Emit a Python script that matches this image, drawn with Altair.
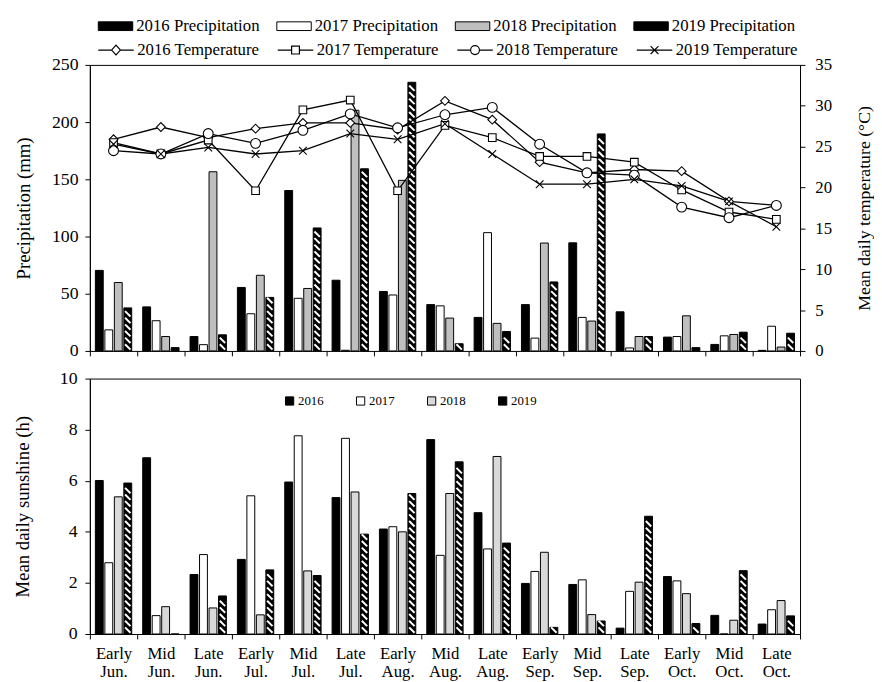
import altair as alt
import pandas as pd
import numpy as np

FONT = "Liberation Serif"

periods = ["Early Jun.", "Mid Jun.", "Late Jun.", "Early Jul.", "Mid Jul.", "Late Jul.",
           "Early Aug.", "Mid Aug.", "Late Aug.", "Early Sep.", "Mid Sep.", "Late Sep.",
           "Early Oct.", "Mid Oct.", "Late Oct."]
years = ["2016", "2017", "2018", "2019"]

precip_2016 = [70.4, 38.5, 12.6, 55.5, 140.2, 61.8, 52.0, 40.5, 29.3, 40.5, 94.5, 34.2, 12.1, 5.7, 0.5]
precip_2017 = [18.4, 26.4, 5.5, 32.5, 46.0, 0.6, 48.9, 39.4, 103.4, 11.2, 29.3, 2.6, 12.6, 13.2, 21.6]
precip_2018 = [59.8, 12.6, 156.6, 66.1, 54.6, 210.3, 149.1, 28.7, 24.1, 94.3, 26.1, 12.6, 30.7, 14.4, 3.4]
precip_2019 = [37.6, 2.9, 14.1, 46.8, 107.5, 159.2, 234.8, 6.3, 17.0, 60.3, 189.7, 12.6, 2.9, 16.4, 15.5]

temp_2016 = [25.9, 27.4, 26.1, 27.2, 27.9, 27.9, 27.1, 30.6, 28.3, 23.1, 21.8, 22.2, 22.0, 18.3, 17.8]
temp_2017 = [25.5, 24.1, 25.8, 19.6, 29.5, 30.7, 19.6, 27.6, 26.1, 23.8, 23.8, 23.1, 19.7, 17.0, 16.1]
temp_2018 = [24.5, 24.1, 26.6, 25.4, 27.0, 29.0, 27.3, 28.9, 29.8, 25.3, 21.8, 21.5, 17.6, 16.3, 17.8]
temp_2019 = [25.3, 24.1, 24.9, 24.1, 24.5, 26.6, 25.9, 27.8, 24.1, 20.4, 20.4, 21.0, 20.2, 18.3, 15.2]

sun_2016 = [6.01, 6.90, 2.33, 2.92, 5.95, 5.34, 4.11, 7.61, 4.75, 1.98, 1.94, 0.23, 2.25, 0.73, 0.39]
sun_2017 = [2.79, 0.72, 3.11, 5.41, 7.76, 7.66, 4.20, 3.08, 3.33, 2.45, 2.12, 1.67, 2.08, 0.0, 0.95]
sun_2018 = [5.37, 1.07, 1.02, 0.75, 2.47, 5.56, 4.00, 5.50, 6.95, 3.20, 0.76, 2.03, 1.58, 0.54, 1.31]
sun_2019 = [5.91, 0.0, 1.49, 2.51, 2.29, 3.91, 5.50, 6.74, 3.56, 0.26, 0.51, 4.61, 0.41, 2.48, 0.71]

precip = [precip_2016, precip_2017, precip_2018, precip_2019]
temps = [temp_2016, temp_2017, temp_2018, temp_2019]
suns = [sun_2016, sun_2017, sun_2018, sun_2019]

plabels = [f"{y} Precipitation" for y in years]
tlabels = [f"{y} Temperature" for y in years]

prows, trows, srows = [], [], []
for i, p in enumerate(periods):
    for k, y in enumerate(years):
        prows.append(dict(period=p, year=y, plabel=plabels[k], precip=precip[k][i]))
        trows.append(dict(period=p, year=y, tlabel=tlabels[k], temp=temps[k][i]))
        srows.append(dict(period=p, year=y, sun=suns[k][i]))
pdf = pd.DataFrame(prows)
tdf = pd.DataFrame(trows)
sdf = pd.DataFrame(srows)


def hatch_rows(values, step):
    rows = []
    for i, p in enumerate(periods):
        v = values[i]
        for hy in np.arange(step * 0.6, v - step * 0.35, step):
            rows.append(dict(period=p, year="2019", hy=float(hy)))
    return pd.DataFrame(rows if rows else [dict(period=periods[0], year="2019", hy=0.0)])


phatch = hatch_rows(precip_2019, 5.8)
shatch = hatch_rows(sun_2019, 0.26)

W = 720
H_TOP = 290
H_BOT = 259

xscale = alt.Scale(domain=periods, paddingInner=0, paddingOuter=0)
xoff = alt.XOffset("year:N", scale=alt.Scale(domain=years, paddingInner=0.17, paddingOuter=0.58))

x_top = alt.X("period:N", sort=periods, scale=xscale,
              axis=alt.Axis(title=None, labels=False, ticks=True, tickBand="extent",
                            tickSize=5, domain=False))
x_bot = alt.X("period:N", sort=periods, scale=xscale,
              axis=alt.Axis(title=None, labelAngle=0, tickBand="extent", tickSize=5,
                            labelExpr="split(datum.label, ' ')", labelLineHeight=18,
                            labelFontSize=17, labelPadding=7, domain=False))

hatch_mark = dict(shape="M-1,-1L1,1", stroke="white", strokeWidth=2, size=30,
                  filled=False, opacity=1, strokeCap="butt")

# ---------------- top panel ----------------
p_scale = alt.Scale(domain=[0, 250], nice=False)
p_axis = alt.Axis(title="Precipitation (mm)", values=list(range(0, 251, 50)),
                  tickSize=5, labelPadding=7, labelFontSize=18, titleFontSize=19,
                  titlePadding=18)

bars = alt.Chart(pdf).mark_bar(stroke="black", strokeWidth=1).encode(
    x=x_top,
    xOffset=xoff,
    y=alt.Y("precip:Q", scale=p_scale, axis=p_axis),
    fill=alt.Fill("plabel:N",
                  scale=alt.Scale(domain=plabels, range=["#000000", "#ffffff", "#bfbfbf", "#000000"]),
                  legend=alt.Legend(orient="none", legendX=16.5, legendY=-49, direction="horizontal",
                                    title=None, symbolType="M-1.94,-0.49H1.94V0.49H-1.94Z",
                                    symbolSize=324,
                                    symbolStrokeColor="black", symbolStrokeWidth=1,
                                    labelFont=FONT, labelFontSize=17, labelOffset=11.5,
                                    columnPadding=15)),
)
phatch_layer = alt.Chart(phatch).mark_point(**hatch_mark).encode(
    x=x_top, xOffset=xoff, y=alt.Y("hy:Q", scale=p_scale, axis=p_axis)
)
bar_layer = alt.layer(bars, phatch_layer)

ty = alt.Y("temp:Q", scale=alt.Scale(domain=[0, 35], nice=False),
           axis=alt.Axis(orient="right", title="Mean daily temperature (°C)", values=list(range(0, 36, 5)),
                         tickSize=5, labelPadding=10, labelFontSize=17, titleFontSize=18,
                         titleAngle=270, titleBaseline="top", titlePadding=24))

lines = alt.Chart(tdf).mark_line(color="black", strokeWidth=1.3).encode(
    x=x_top, y=ty, detail="year:N"
)

marker_shapes = ["diamond", "square", "circle", "M-1,-1L1,1M-1,1L1,-1"]
marker_sizes = [80, 60, 100, 60]
point_layers = []
for y, shp, sz in zip(years, marker_shapes, marker_sizes):
    point_layers.append(
        alt.Chart(tdf).transform_filter(alt.datum.year == y).mark_point(
            shape=shp, size=sz, filled=True, fill="white", stroke="black", strokeWidth=1.1, opacity=1
        ).encode(x=x_top, y=ty)
    )

legend_paths = [
    "M-2,0H-0.5M0.5,0H2M-0.5,0L0,-0.55L0.5,0L0,0.55Z",
    "M-2,0H-0.44M0.44,0H2M-0.44,-0.44H0.44V0.44H-0.44Z",
    "M-2,0H-0.5M0.5,0H2M-0.5,0A0.5,0.5 0 1,0 0.5,0A0.5,0.5 0 1,0 -0.5,0Z",
    "M-2,0H2M-0.44,-0.44L0.44,0.44M-0.44,0.44L0.44,-0.44",
]
legend_layer = alt.Chart(tdf).transform_filter("false").mark_point(
    filled=False, color="black", strokeWidth=1.2, opacity=1
).encode(
    x=x_top, y=ty,
    shape=alt.Shape("tlabel:N", scale=alt.Scale(domain=tlabels, range=legend_paths),
                    legend=alt.Legend(orient="none", legendX=16.5, legendY=-25, direction="horizontal",
                                      title=None, symbolSize=324,
                                      symbolStrokeColor="black", symbolStrokeWidth=1.2,
                                      labelFont=FONT, labelFontSize=17, labelOffset=11.5,
                                      columnPadding=15)),
)
temp_layer = alt.layer(lines, *point_layers, legend_layer)

top = alt.layer(bar_layer, temp_layer).resolve_scale(y="independent").properties(
    width=W, height=H_TOP
)

# ---------------- bottom panel ----------------
s_scale = alt.Scale(domain=[0, 10], nice=False)
s_axis = alt.Axis(title="Mean daily sunshine (h)", values=list(range(0, 11, 2)),
                  tickSize=5, labelPadding=8, labelFontSize=18, titleFontSize=19,
                  titlePadding=27)

sbars = alt.Chart(sdf).mark_bar(stroke="black", strokeWidth=1).encode(
    x=x_bot,
    xOffset=xoff,
    y=alt.Y("sun:Q", scale=s_scale, axis=s_axis),
    fill=alt.Fill("year:N",
                  scale=alt.Scale(domain=years, range=["#000000", "#ffffff", "#d9d9d9", "#000000"]),
                  legend=alt.Legend(orient="none", legendX=196, legendY=16, direction="horizontal",
                                    title=None, symbolType="square", symbolSize=70,
                                    symbolStrokeColor="black", symbolStrokeWidth=1,
                                    labelFont=FONT, labelFontSize=13, labelOffset=2,
                                    columnPadding=31)),
)
shatch_layer = alt.Chart(shatch).mark_point(**hatch_mark).encode(
    x=x_bot, xOffset=xoff, y=alt.Y("hy:Q", scale=s_scale, axis=s_axis)
)
bottom = alt.layer(sbars, shatch_layer).properties(width=W, height=H_BOT)

chart = alt.vconcat(top, bottom, spacing=8).resolve_scale(fill="independent").properties(
    padding={"left": 5, "top": 3, "right": 0, "bottom": 0}
).configure(
    font=FONT
).configure_axis(
    grid=False, domainColor="black", tickColor="black", labelColor="black", titleColor="black",
    labelFont=FONT, titleFont=FONT, titleFontWeight="normal", domainWidth=1, tickWidth=1
).configure_view(
    stroke="black", strokeWidth=1
).configure_legend(
    labelColor="black"
)

chart.save("out.html", embed_options={"renderer": "svg", "actions": False})
